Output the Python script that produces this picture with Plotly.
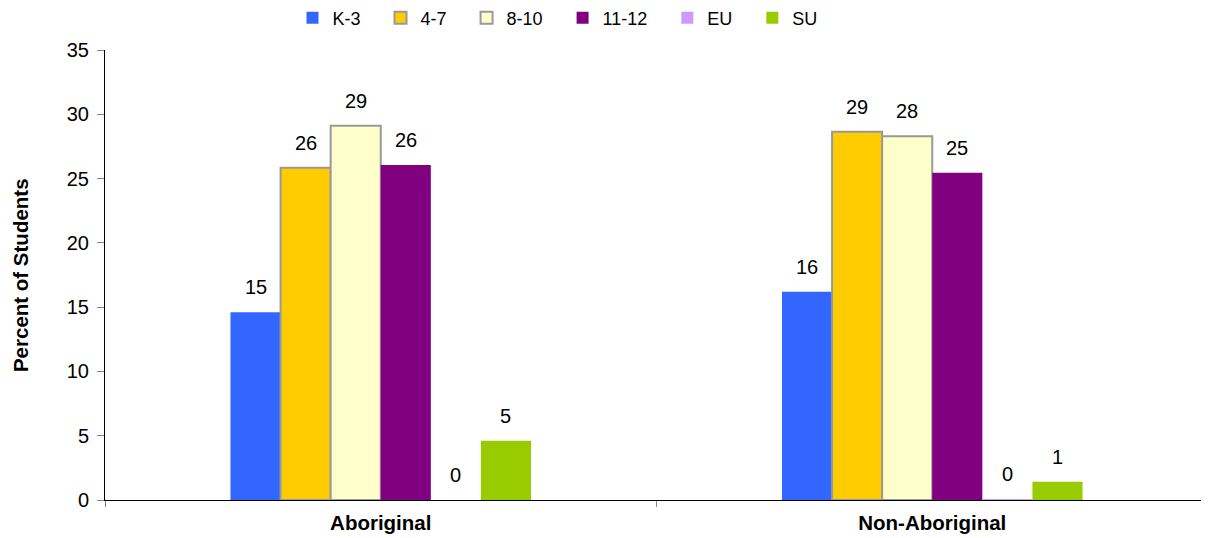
import plotly.graph_objects as go

groups = ['Aboriginal', 'Non-Aboriginal']
series_names = ['K-3', '4-7', '8-10', '11-12', 'EU', 'SU']
k3 = [14.6, 16.2]
g4_7 = [25.85, 28.65]
g8_10 = [29.1, 28.3]
g11_12 = [26.05, 25.45]
eu = [0.0, 0.05]
su = [4.6, 1.42]

FONT = 'Arial, "Liberation Sans", sans-serif'
COLORS = ['#3366ff', '#ffcc00', '#ffffcc', '#800080', '#cc99ff', '#99cc00']
OUTLINES = [None, '#999999', '#999999', None, None, None]
BARGAP = 0.455

all_series = [k3, g4_7, g8_10, g11_12, eu, su]
fig = go.Figure()
for name, vals, color, outline in zip(series_names, all_series, COLORS, OUTLINES):
    fig.add_trace(go.Bar(
        x=groups, y=vals, name=name + '\u00a0' * 3,
        marker=dict(color=color, line=dict(color=outline or color, width=2 if outline else 0)),
        hoverinfo='x+y+name',
    ))

# value labels sit a little above each bar, as in the source chart
n = len(series_names)
w = (1 - BARGAP) / n
labels = []
for si, vals in enumerate(all_series):
    for gi, v in enumerate(vals):
        labels.append(dict(x=gi + (si - (n - 1) / 2) * w, y=v, xref='x', yref='y',
                           text=f'{round(v):d}', showarrow=False, yanchor='bottom', yshift=12,
                           font=dict(family=FONT, size=20, color='#000000')))
labels.append(dict(text='<b>Percent of Students</b>', textangle=-90, xref='paper', yref='paper',
                   x=-0.077, xanchor='center', y=0.5, yanchor='middle', showarrow=False,
                   font=dict(family=FONT, size=20.5)))

# page body adds 8px, so the figure is 8px smaller than the window
fig.update_layout(
    width=1201, height=530,
    margin=dict(l=97, r=1, t=42, b=38, autoexpand=False),
    paper_bgcolor='#ffffff', plot_bgcolor='#ffffff',
    barmode='group', bargap=BARGAP, bargroupgap=0,
    font=dict(family=FONT, size=18, color='#000000'),
    showlegend=True,
    legend=dict(orientation='h', x=0.17, xanchor='left', y=1.071, yanchor='middle',
                font=dict(family=FONT, size=18), itemwidth=30, traceorder='normal'),
    annotations=labels,
)
fig.update_xaxes(showline=True, linecolor='#000000', linewidth=1, ticks='outside', tickson='boundaries',
                 tickcolor='#888888', ticklen=6, tickfont=dict(family=FONT, size=20.5),
                 tickvals=groups, ticktext=[f'<b>{g}</b>' for g in groups], automargin=False,
                 ticklabelstandoff=4)
fig.update_yaxes(range=[0, 35], dtick=5, showline=True, linecolor='#000000', linewidth=1, showgrid=False,
                 zeroline=False, ticks='outside', tickcolor='#888888', ticklen=7,
                 tickfont=dict(family=FONT, size=20), automargin=False, ticklabelstandoff=4)

fig.write_html('out.html')
